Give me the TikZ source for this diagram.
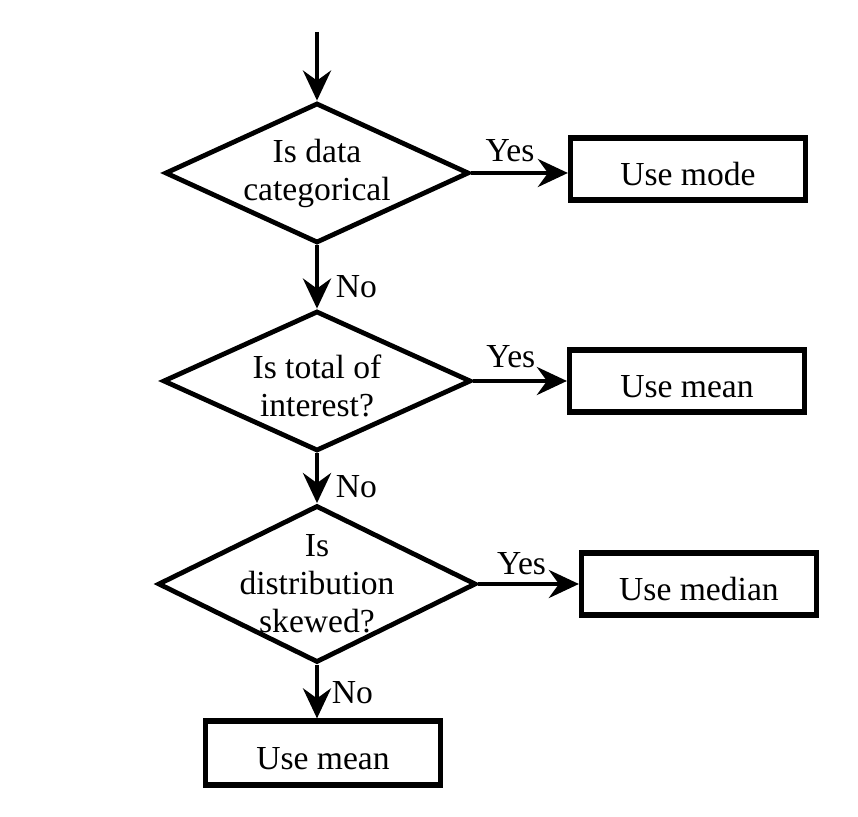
\documentclass[tikz,border=0pt]{standalone}
\usepackage{fontspec}
\setmainfont{Liberation Serif}
\usepackage{tikz}
\usetikzlibrary{shapes.geometric, arrows.meta, positioning}
\tikzstyle{decision} = [diamond, draw=black, line width=2.4pt, inner sep=0pt, text centered]
\tikzstyle{process} = [rectangle, draw=black, line width=2.6pt, minimum width=117.5pt, minimum height=31pt, text height=16.5pt, text depth=0pt, text centered]
\tikzstyle{dtext} = [align=center, inner sep=0pt]
\tikzstyle{arrow} = [line width=2.2pt, -{Stealth[length=15pt, width=14pt, inset=5pt]}]

\begin{document}
\begin{tikzpicture}[font=\fontsize{16.8}{19}\selectfont]
\useasboundingbox (-158.5pt,86.5pt) rectangle (270.5pt,-322pt);
\node(d1) [decision, minimum width=152pt, minimum height=70pt, label={[dtext]center:Is data\\categorical}] {};
\coordinate[above of=d1, node distance=70.5pt] (in);
\node(d2) [decision, minimum width=154pt, minimum height=70pt, node distance=104pt, below of=d1, label={[dtext, yshift=-2.5pt]center:Is total of\\interest?}] {};
\node(d3) [decision, minimum width=159pt, minimum height=78.5pt, node distance=101.5pt, below of=d2, label={[dtext]center:Is\\distribution\\skewed?}] {};
\node(mode) [process, node distance=185.5pt, right of=d1, yshift=2pt] {Use mode};
\node(mean) [process, node distance=185pt, right of=d2] {Use mean};
\node(median) [process, node distance=191pt, right of=d3] {Use median};
\node(mean2) [process, minimum height=32pt, node distance=84.5pt, below of=d3, xshift=3pt] {Use mean};

\draw[arrow] (in) -- (d1);
\draw[arrow] (d1.east) -- node[above, pos=0.4, inner sep=4.5pt]{Yes} (d1.east -| mode.west);
\draw[arrow] (d2.east) -- node[above, pos=0.4, inner sep=5.5pt]{Yes} (d2.east -| mean.west);
\draw[arrow] (d3.east) -- node[above, pos=0.43, inner sep=3.5pt]{Yes} (d3.east -| median.west);
\draw[arrow] (d1.south) -- node[right, pos=0.66, xshift=5pt]{No} (d2.north);
\draw[arrow] (d2.south) -- node[right, pos=0.66, xshift=5pt]{No} (d3.north);
\draw[arrow] (d3.south) -- node[right, pos=0.52, xshift=3pt]{No} (d3.south |- mean2.north);
\end{tikzpicture}
\end{document}
